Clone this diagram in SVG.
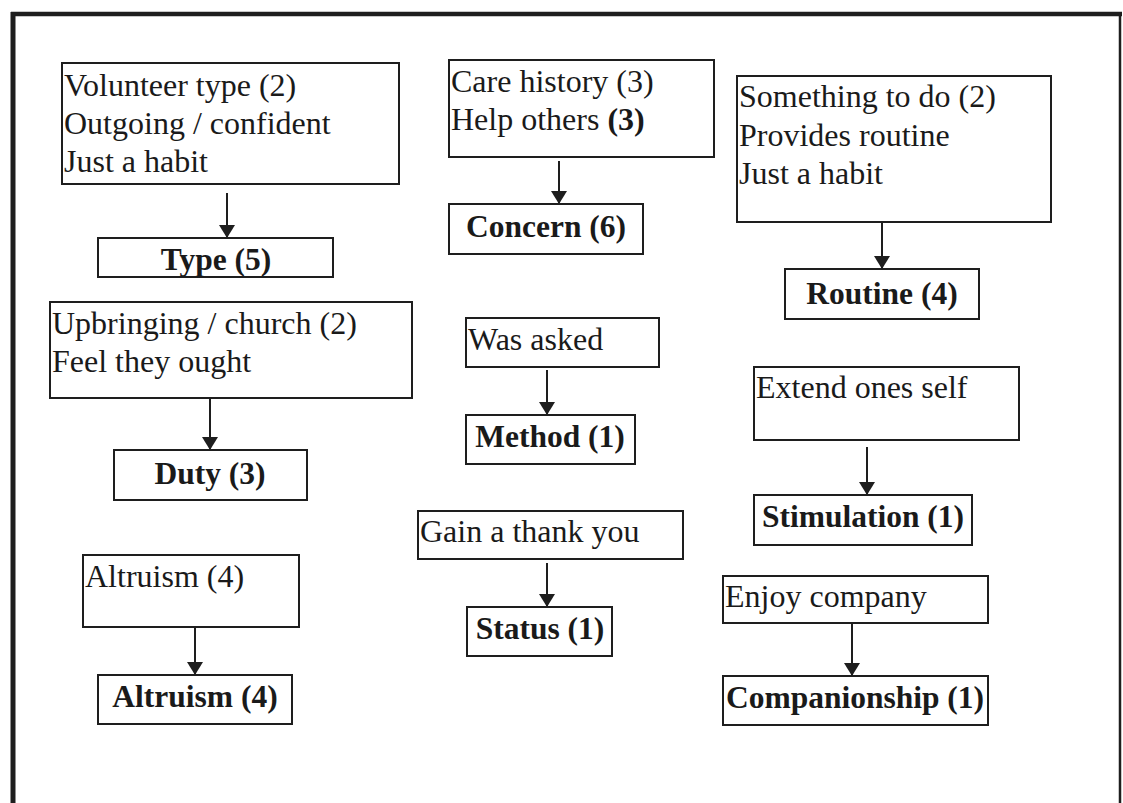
<svg xmlns="http://www.w3.org/2000/svg" width="1123" height="803" viewBox="0 0 1123 803">
  <style>
    .box { fill: #ffffff; stroke: #1e1e1e; stroke-width: 2; }
    .t { font-family: "Liberation Serif", "Times New Roman", serif; font-size: 32px; fill: #1a1a1a; }
    .b { font-family: "Liberation Serif", "Times New Roman", serif; font-size: 31.5px; font-weight: bold; fill: #1a1a1a; text-anchor: middle; }
    .conn { stroke: #1e1e1e; stroke-width: 2; fill: none; marker-end: url(#arrow); }
  </style>
  <defs>
    <marker id="arrow" markerWidth="16" markerHeight="16" refX="13" refY="8" orient="auto" markerUnits="userSpaceOnUse">
      <path d="M0,0 L13,8 L0,16 Z" fill="#1e1e1e"/>
    </marker>
  </defs>

  <rect width="1123" height="803" fill="#ffffff"/>

  <!-- outer frame (open at the bottom) -->
  <g id="frame" stroke="#1e1e1e" fill="none">
    <line x1="11" y1="14" x2="1122" y2="14" stroke-width="4.5"/>
    <line x1="13" y1="12" x2="13" y2="803" stroke-width="5"/>
    <line x1="1120" y1="14" x2="1120" y2="803" stroke-width="2.5"/>
  </g>

  <!-- connectors -->
  <g id="connectors">
    <line class="conn" x1="227" y1="193" x2="227" y2="238"/>
    <line class="conn" x1="559" y1="161" x2="559" y2="204"/>
    <line class="conn" x1="882" y1="222" x2="882" y2="269"/>
    <line class="conn" x1="210" y1="398" x2="210" y2="450"/>
    <line class="conn" x1="547" y1="370" x2="547" y2="415"/>
    <line class="conn" x1="867" y1="447" x2="867" y2="495"/>
    <line class="conn" x1="195" y1="627" x2="195" y2="675"/>
    <line class="conn" x1="547" y1="563" x2="547" y2="607"/>
    <line class="conn" x1="852" y1="623" x2="852" y2="676"/>
  </g>

  <!-- left column -->
  <g id="volunteer-type">
    <rect class="box" x="62" y="63" width="337" height="121"/>
    <text class="t" x="64" y="96">Volunteer type (2)</text>
    <text class="t" x="64" y="134">Outgoing / confident</text>
    <text class="t" x="64" y="172">Just a habit</text>
  </g>
  <g id="type">
    <rect class="box" x="98" y="238" width="235" height="39"/>
    <text class="b" x="216" y="270">Type (5)</text>
  </g>
  <g id="upbringing">
    <rect class="box" x="50" y="302" width="362" height="96"/>
    <text class="t" x="52" y="334">Upbringing / church (2)</text>
    <text class="t" x="52" y="372">Feel they ought</text>
  </g>
  <g id="duty">
    <rect class="box" x="114" y="450" width="193" height="50"/>
    <text class="b" x="210" y="484">Duty (3)</text>
  </g>
  <g id="altruism-source">
    <rect class="box" x="83" y="555" width="216" height="72"/>
    <text class="t" x="85" y="587">Altruism (4)</text>
  </g>
  <g id="altruism">
    <rect class="box" x="98" y="675" width="194" height="49"/>
    <text class="b" x="195" y="707">Altruism (4)</text>
  </g>

  <!-- middle column -->
  <g id="care-history">
    <rect class="box" x="449" y="60" width="265" height="97"/>
    <text class="t" x="451" y="92">Care history (3)</text>
    <text class="t" x="451" y="130">Help others <tspan font-weight="bold">(3)</tspan></text>
  </g>
  <g id="concern">
    <rect class="box" x="449" y="204" width="194" height="50"/>
    <text class="b" x="546" y="237">Concern (6)</text>
  </g>
  <g id="was-asked">
    <rect class="box" x="466" y="318" width="193" height="49"/>
    <text class="t" x="468" y="350">Was asked</text>
  </g>
  <g id="method">
    <rect class="box" x="466" y="415" width="169" height="49"/>
    <text class="b" x="550" y="447">Method (1)</text>
  </g>
  <g id="gain-thank-you">
    <rect class="box" x="418" y="511" width="265" height="48"/>
    <text class="t" x="420" y="542">Gain a thank you</text>
  </g>
  <g id="status">
    <rect class="box" x="467" y="607" width="145" height="49"/>
    <text class="b" x="540" y="639">Status (1)</text>
  </g>

  <!-- right column -->
  <g id="something-to-do">
    <rect class="box" x="737" y="76" width="314" height="146"/>
    <text class="t" x="739" y="107">Something to do (2)</text>
    <text class="t" x="739" y="146">Provides routine</text>
    <text class="t" x="739" y="184">Just a habit</text>
  </g>
  <g id="routine">
    <rect class="box" x="785" y="269" width="194" height="50"/>
    <text class="b" x="882" y="304">Routine (4)</text>
  </g>
  <g id="extend-self">
    <rect class="box" x="754" y="367" width="265" height="73"/>
    <text class="t" x="756" y="398">Extend ones self</text>
  </g>
  <g id="stimulation">
    <rect class="box" x="754" y="495" width="218" height="50"/>
    <text class="b" x="863" y="527">Stimulation (1)</text>
  </g>
  <g id="enjoy-company">
    <rect class="box" x="723" y="576" width="265" height="47"/>
    <text class="t" x="725" y="607">Enjoy company</text>
  </g>
  <g id="companionship">
    <rect class="box" x="723" y="676" width="265" height="49"/>
    <text class="b" x="855" y="708">Companionship (1)</text>
  </g>
</svg>
